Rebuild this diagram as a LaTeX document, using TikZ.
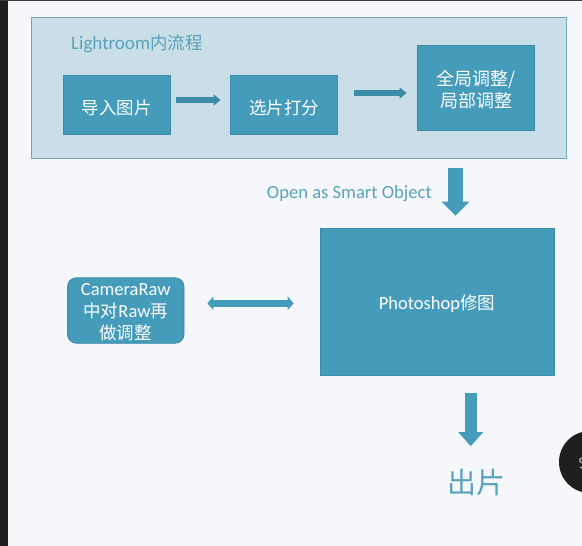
\documentclass[tikz,border=0pt]{standalone}
\usepackage{fontspec}
\setmainfont{Carlito}
\newfontfamily\cjk{Noto Sans CJK SC}
\usetikzlibrary{arrows.meta}
\definecolor{pagebg}{HTML}{F6F7FA}
\definecolor{panel}{HTML}{C9DEE7}
\definecolor{panelline}{HTML}{6AA5BA}
\definecolor{teal}{HTML}{459BBA}
\definecolor{tealline}{HTML}{3C8BA8}
\definecolor{labeltext}{HTML}{5AA3BC}
\newcommand{\headroom}[1]{\rule{0pt}{#1pt}}
\newcommand{\cjkstyle}{\cjk\fontsize{17.5}{22}\selectfont}
\tikzset{
  flowbox/.style={draw=tealline,line width=0.8pt,fill=teal,text=white,align=center,inner sep=0pt,font=\fontsize{18.5}{22}\selectfont},
  slimarrow/.style={draw=tealline,line width=5.5pt,-{Triangle[length=7pt,width=11pt]}},
  bigarrow/.style={draw=teal,-{Triangle[length=14pt,width=#1]}},
  bothways/.style={draw=teal,line width=7pt,{Triangle[length=6pt,width=13.5pt]}-{Triangle[length=6pt,width=13.5pt]}},
  caption/.style={text=labeltext,inner sep=0pt}
}
\begin{document}
\begin{tikzpicture}[x=1pt,y=-1pt]
\useasboundingbox (0,0) rectangle (582,546);
\fill[pagebg] (0,0) rectangle (582,546);
\fill[black!88] (0,0) rectangle (8,546);
\fill[black!75] (0,0) rectangle (582,1);
\fill[black!88] (590,462) circle (31);
\draw[white!70!black,line width=1.2pt] (582,458) .. controls (579,458) and (579,462) .. (582,463);
\draw[white!70!black,line width=1.2pt] (582,468) -- (580,467);
\node[draw=panelline,line width=0.8pt,fill=panel,minimum width=534.5pt,minimum height=140.5pt,inner sep=0pt] (panel) at (298.75,87.75) {};
\node[caption,anchor=west,font=\fontsize{19}{22}\selectfont] (lrtitle) at (71,43.5) {Lightroom{\cjkstyle 内流程}};
\node[flowbox,minimum width=107pt,minimum height=59pt] (import) at (116.5,104.5) {\headroom{21}{\cjkstyle 导入图片}};
\node[flowbox,minimum width=107pt,minimum height=59pt] (rate) at (284,104.5) {\headroom{21}{\cjkstyle 选片打分}};
\node[flowbox,minimum width=117pt,minimum height=84.5pt] (adjust) at (476,87.75) {\headroom{18}{\cjk\fontsize{18}{22}\selectfont 全局调整/}\\{\cjk\fontsize{18}{22}\selectfont 局部调整}};
\node[flowbox,minimum width=234pt,minimum height=146.5pt] (ps) at (437,302) {\headroom{17}Photoshop{\cjkstyle 修图}};
\node[flowbox,rounded corners=9pt,minimum width=116.5pt,minimum height=65.5pt] (cr) at (125.75,310.5) {\headroom{15}CameraRaw\\{\cjkstyle 中对}Raw{\cjkstyle 再}\\{\cjkstyle 做调整}};
\node[caption,anchor=east,font=\fontsize{18.6}{22}\selectfont] (smart) at (432,193.5) {Open as Smart Object};
\node[caption,font=\cjk\fontsize{29}{31}\selectfont] (out) at (476,483) {出片};
\draw[slimarrow] ([shift={(5.5,-4.5)}]import.east) -- ([shift={(-9.5,-4.5)}]rate.west);
\draw[slimarrow] ([shift={(16,-11.5)}]rate.east) -- ([shift={(-10.5,5.25)}]adjust.west);
\draw[bothways] ([shift={(23,-7.2)}]cr.east) -- ([shift={(-26,1.3)}]ps.west);
\draw[bigarrow=27pt,line width=14.5pt] ([shift={(18.5,-60.7)}]ps.north) -- ([shift={(18.5,-12.7)}]ps.north);
\draw[bigarrow=24pt,line width=12pt] ([shift={(33.7,17)}]ps.south) -- ([shift={(33.7,70.5)}]ps.south);
\end{tikzpicture}
\end{document}
